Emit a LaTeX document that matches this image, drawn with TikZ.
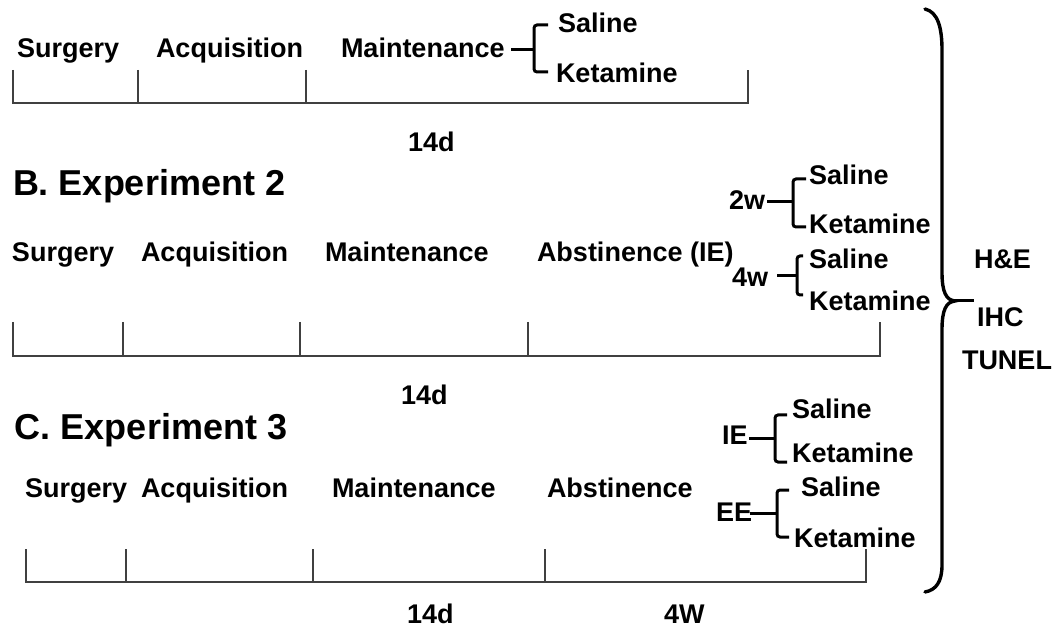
\documentclass[tikz,border=0pt]{standalone}
\usepackage{fontspec}
\setmainfont{Liberation Sans}
\begin{document}
\begin{tikzpicture}[x=1pt,y=-1pt,
  lbl/.style={font=\fontsize{27}{31}\selectfont\bfseries, inner sep=0pt, outer sep=0pt, anchor=base west},
  ttl/.style={font=\fontsize{36}{41}\selectfont\bfseries, inner sep=0pt, outer sep=0pt, anchor=base west},
  tline/.style={line width=1.6pt, draw=black!75},
  brk/.style={line width=3pt, rounded corners=3pt},
  bigbrace/.style={line width=3.4pt, line cap=round}]
\useasboundingbox (0,0) rectangle (1061,628);

% ---------- Row A ----------
\node[lbl] (aS) at (17,58) {Surgery};
\node[lbl] (aA) at (156,58) {Acquisition};
\node[lbl] (aM) at (341,58) {Maintenance};
\node[lbl] (aSal) at (558,33) {Saline};
\node[lbl] (aKet) at (556,83) {Ketamine};
\node[lbl] (a14) at (408,152) {14d};
\draw[tline] (13,70) -- (13,103) -- (748,103) -- (748,70);
\foreach \x in {138,306} \draw[tline] (\x,70) -- (\x,103);
\coordinate (aJ) at (534,50);
\draw[brk] (511,50) -- (aJ);
\draw[brk] (548,25) -- (534,25) -- (534,72) -- (548,72);

% ---------- Row B ----------
\node[ttl] (bT) at (13,196) {B. Experiment 2};
\node[lbl] (bS) at (12,262) {Surgery};
\node[lbl] (bA) at (141,262) {Acquisition};
\node[lbl] (bM) at (325,262) {Maintenance};
\node[lbl] (bAb) at (537,262) {Abstinence (IE)};
\node[lbl] (b14) at (401,405) {14d};
\draw[tline] (13,322) -- (13,356) -- (880,356) -- (880,322);
\foreach \x in {123,300,528} \draw[tline] (\x,322) -- (\x,356);

\node[lbl] (b2w) at (729,210) {2w};
\node[lbl] (b2Sal) at (809,185) {Saline};
\node[lbl] (b2Ket) at (809,234) {Ketamine};
\draw[brk] (767,202) -- (793,202);
\draw[brk] (806,179) -- (793,179) -- (793,227) -- (806,227);

\node[lbl] (b4w) at (732,287) {4w};
\node[lbl] (b4Sal) at (809,269) {Saline};
\node[lbl] (b4Ket) at (809,311) {Ketamine};
\draw[brk] (777,276) -- (797,276);
\draw[brk] (803,256) -- (797,256) -- (797,295) -- (803,295);

% ---------- Row C ----------
\node[ttl] (cT) at (15,439) {C. Experiment 3};
\node[lbl] (cS) at (25,497) {Surgery};
\node[lbl] (cA) at (141,497) {Acquisition};
\node[lbl] (cM) at (332,497) {Maintenance};
\node[lbl] (cAb) at (547,497) {Abstinence};
\node[lbl] (c14) at (407,623) {14d};
\node[lbl] (c4W) at (664,623) {4W};
\draw[tline] (26,549) -- (26,582) -- (866,582) -- (866,549);
\foreach \x in {126,313,545} \draw[tline] (\x,549) -- (\x,582);

\node[lbl] (cIE) at (722,445) {IE};
\node[lbl] (cISal) at (792,419) {Saline};
\node[lbl] (cIKet) at (792,462) {Ketamine};
\draw[brk] (749,438) -- (775,438);
\draw[brk] (787,415) -- (775,415) -- (775,462) -- (787,462);

\node[lbl] (cEE) at (716,521) {EE};
\node[lbl] (cESal) at (801,496) {Saline};
\node[lbl] (cEKet) at (794,547) {Ketamine};
\draw[brk] (750,513) -- (777,513);
\draw[brk] (789,490) -- (777,490) -- (777,537) -- (789,537);

% ---------- Right brace ----------
\node[lbl] (he) at (974,269) {H\&E};
\node[lbl] (ihc) at (977,327) {IHC};
\node[lbl] (tunel) at (962,370) {TUNEL};
\coordinate (tip) at (955,301);
\draw[bigbrace] (925,9) .. controls (938,12) and (942,28) .. (942,50)
  -- (942,272) .. controls (942,292) and (946,300) .. (tip)
  .. controls (946,302) and (942,310) .. (942,330)
  -- (942,565) .. controls (942,582) and (936,590) .. (925,592);
\draw[line width=3pt] (tip) -- (974,301);
\end{tikzpicture}
\end{document}
